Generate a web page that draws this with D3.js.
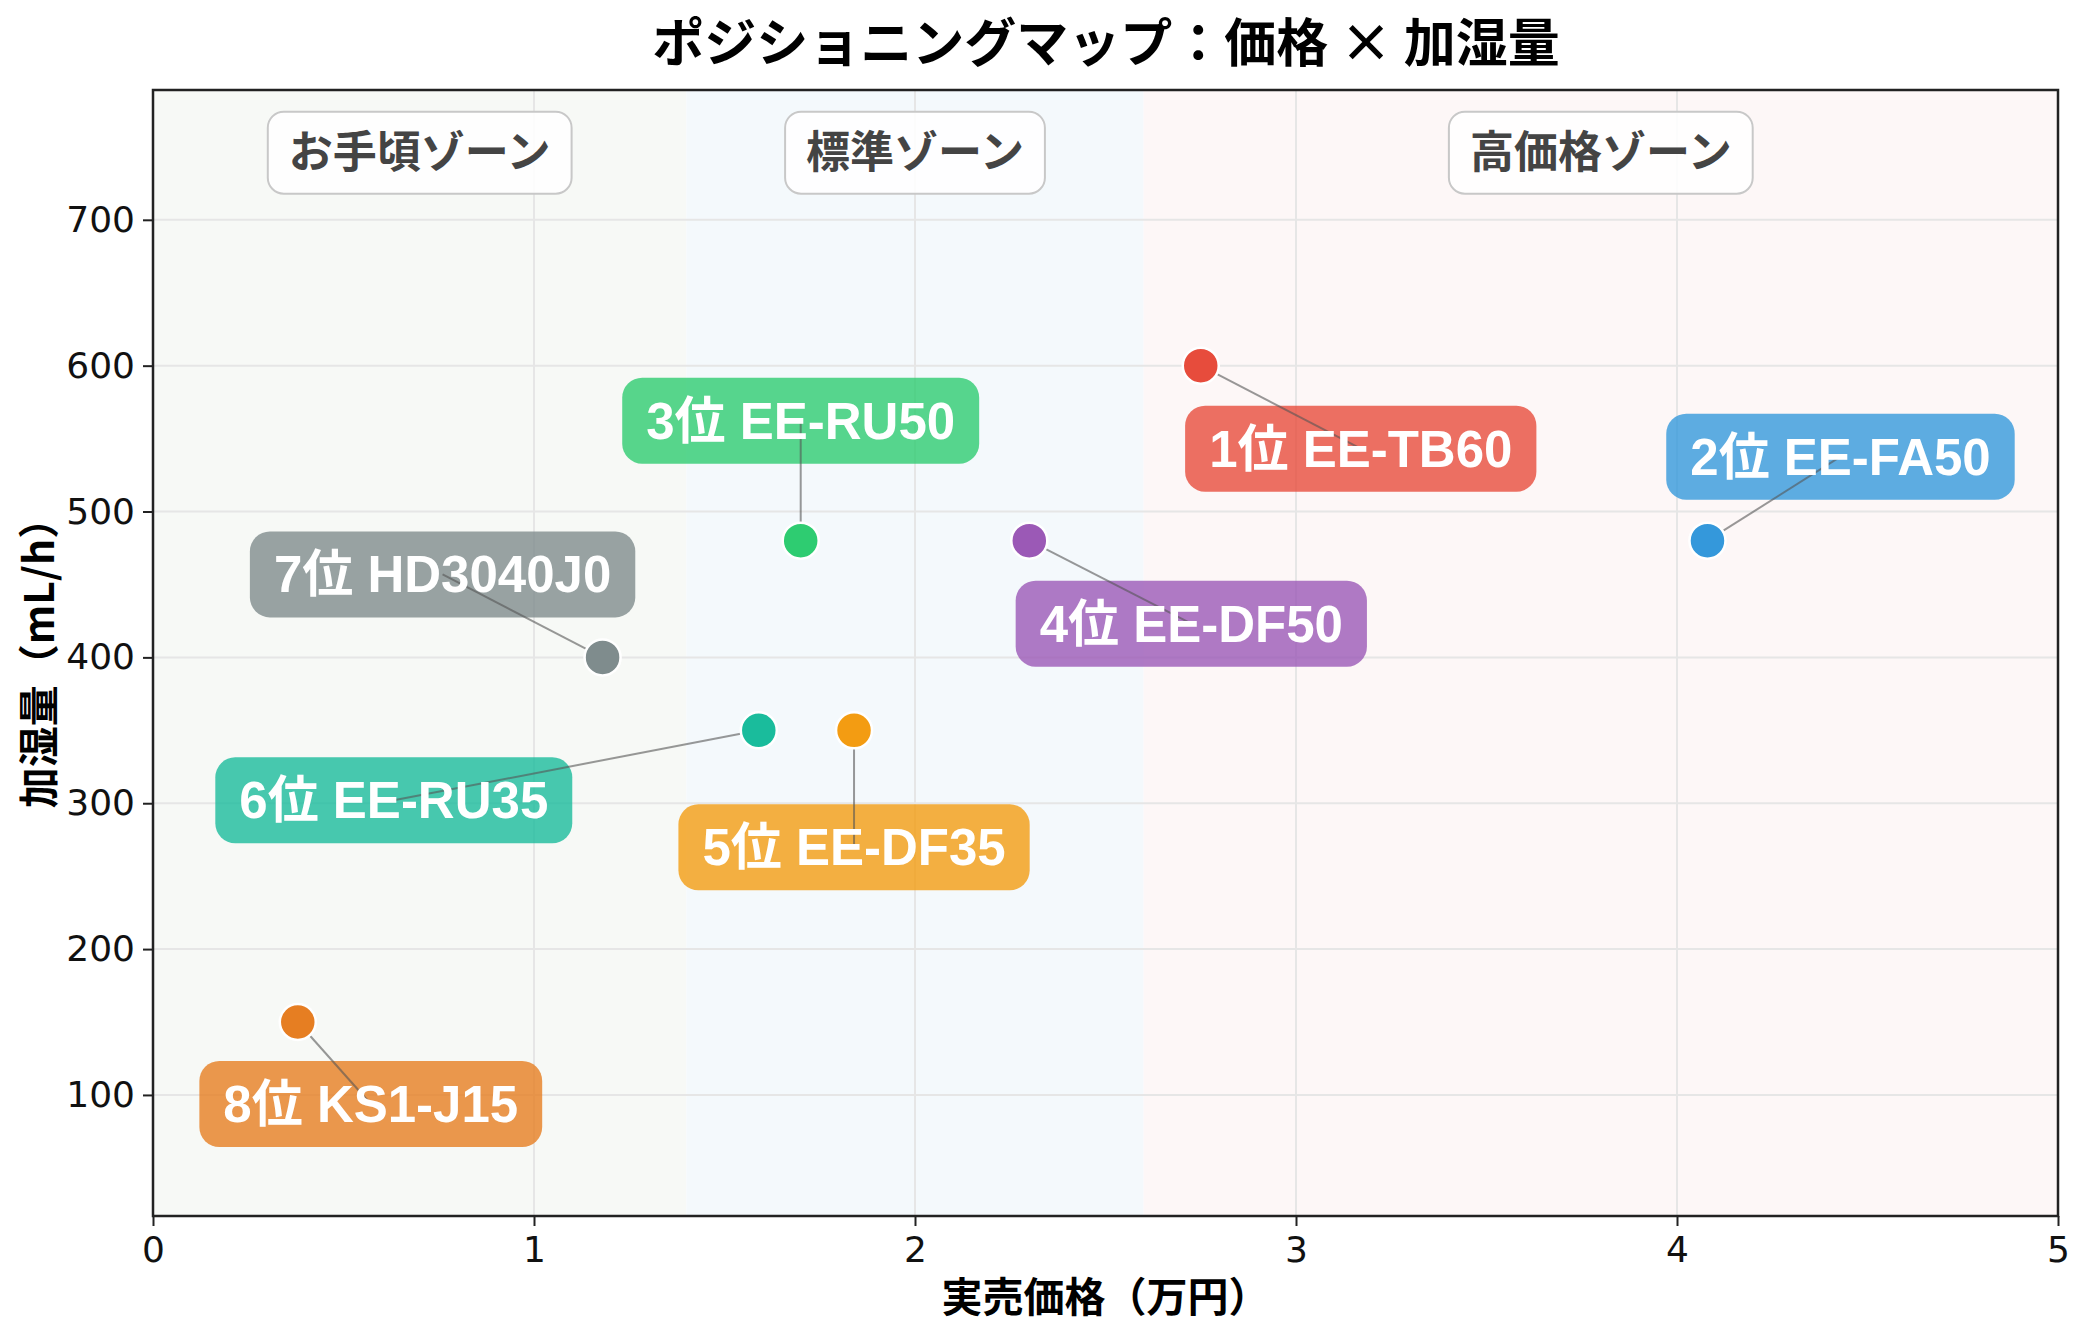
<!DOCTYPE html>
<html>
<head>
<meta charset="utf-8">
<script src="https://cdn.jsdelivr.net/npm/d3@7"></script>
<style>
  body { margin: 0; background: #fff; }
  svg { display: block; }
</style>
</head>
<body>
<div id="chart"><svg width="2084" height="1334"></svg></div>
<script>
// data
var ranks = ['1位', '2位', '3位', '4位', '5位', '6位', '7位', '8位'];
var models = ['EE-TB60', 'EE-FA50', 'EE-RU50', 'EE-DF50', 'EE-DF35', 'EE-RU35', 'HD3040J0', 'KS1-J15'];
var prices = [2.75, 4.08, 1.70, 2.30, 1.84, 1.59, 1.18, 0.38];   // 万円
var humidity = [600, 480, 480, 480, 350, 350, 400, 150];       // mL/h
var colors = ['#e74c3c', '#3498db', '#2ecc71', '#9b59b6', '#f39c12', '#1abc9c', '#7f8c8d', '#e67e22'];

var zoneNames = ['お手頃ゾーン', '標準ゾーン', '高価格ゾーン'];
var zoneEdges = [0, 1.4, 2.6, 5];
var zoneColors = ['#f7f9f6', '#f4f9fc', '#fdf7f7'];

var xTicks = [0, 1, 2, 3, 4, 5];
var yTicks = [100, 200, 300, 400, 500, 600, 700];

// label offsets from each point, in px (annotation layout)
var labelOffsets = [[160, 83], [133, -84], [0, -120], [162, 83], [0, 117], [-365, 70], [-160, -83], [73, 82]];

var margin = { top: 90, left: 153, bottom: 118, right: 26 };
var svg = d3.select('#chart > svg');
var width = 2084 - margin.left - margin.right;
var height = 1334 - margin.top - margin.bottom;

var xScale = d3.scaleLinear().domain([0, 5]).range([0, width]);
var yScale = d3.scaleLinear().domain([17, 789]).range([height, 0]);

var latin = "'DejaVu Sans', 'Noto Sans CJK JP', sans-serif";
var cjk = "'Noto Sans CJK JP', 'Noto Sans', sans-serif";
var labelFont = "'Liberation Sans', 'Noto Sans CJK JP', sans-serif";

var data = ranks.map(function(r, i) {
	return { rank: r, model: models[i], price: prices[i], humid: humidity[i], color: colors[i], off: labelOffsets[i] };
});

var group = svg.append('g')
	.attr('transform', 'translate(' + [margin.left, margin.top] + ')');

// zone backgrounds
var zones = zoneNames.map(function(n, i) { return { name: n, x0: zoneEdges[i], x1: zoneEdges[i + 1], color: zoneColors[i] }; });
group.append('g').selectAll('rect')
	.data(zones).enter()
	.append('rect')
	.attr('x', function(d) { return xScale(d.x0) })
	.attr('width', function(d) { return xScale(d.x1) - xScale(d.x0) })
	.attr('y', 0)
	.attr('height', height)
	.attr('fill', function(d) { return d.color });

// grids
group.append('g').selectAll('line')
	.data(yTicks).enter()
	.append('line')
	.attr('x1', 0).attr('x2', width)
	.attr('y1', function(d) { return yScale(d) })
	.attr('y2', function(d) { return yScale(d) })
	.attr('stroke', '#e6e6e6').attr('stroke-width', 2);
group.append('g').selectAll('line')
	.data(xTicks.slice(1, -1)).enter()
	.append('line')
	.attr('y1', 0).attr('y2', height)
	.attr('x1', function(d) { return xScale(d) })
	.attr('x2', function(d) { return xScale(d) })
	.attr('stroke', '#e6e6e6').attr('stroke-width', 2);

// zone labels
var zoneLabelY = 746;
var zl = group.append('g').selectAll('g')
	.data(zones).enter()
	.append('g')
	.attr('transform', function(d) { return 'translate(' + [xScale((d.x0 + d.x1) / 2), yScale(zoneLabelY)] + ')' });
zl.append('rect');
zl.append('text')
	.attr('text-anchor', 'middle')
	.attr('y', 15)
	.style('font-family', cjk)
	.style('font-weight', 700)
	.style('font-size', '44px')
	.attr('fill', '#444')
	.text(function(d) { return d.name });
zl.each(function() {
	var g = d3.select(this);
	var w = g.select('text').node().getComputedTextLength() + 42;
	g.select('rect')
		.attr('x', -w / 2).attr('y', -41)
		.attr('width', w).attr('height', 82)
		.attr('rx', 16)
		.attr('fill', '#fff').attr('fill-opacity', 0.85)
		.attr('stroke', '#c8c8c8').attr('stroke-width', 2);
});

// annotation boxes + leader lines
var ann = group.append('g').selectAll('g')
	.data(data).enter()
	.append('g')
	.attr('transform', function(d) { return 'translate(' + [xScale(d.price) + d.off[0], yScale(d.humid) + d.off[1]] + ')' });
ann.append('rect');
ann.append('line')
	.attr('x1', 0).attr('y1', 0)
	.attr('x2', function(d) { return -d.off[0] })
	.attr('y2', function(d) { return -d.off[1] })
	.attr('stroke', '#555').attr('stroke-opacity', 0.6).attr('stroke-width', 2);
ann.append('text')
	.attr('text-anchor', 'middle')
	.attr('y', 18)
	.style('font-family', labelFont)
	.style('font-weight', 700)
	.style('font-size', '51px')
	.attr('fill', '#fff')
	.text(function(d) { return d.rank + ' ' + d.model });
ann.each(function(d) {
	var g = d3.select(this);
	var w = g.select('text').node().getComputedTextLength() + 48;
	g.select('rect')
		.attr('x', -w / 2).attr('y', -43)
		.attr('width', w).attr('height', 86)
		.attr('rx', 20)
		.attr('fill', d.color).attr('fill-opacity', 0.8);
});

// dots
group.append('g').selectAll('circle')
	.data(data).enter()
	.append('circle')
	.attr('cx', function(d) { return xScale(d.price) })
	.attr('cy', function(d) { return yScale(d.humid) })
	.attr('r', 18)
	.attr('fill', function(d) { return d.color })
	.attr('stroke', '#fff').attr('stroke-width', 2.5);

// axes
var xAxis = group.append('g')
	.attr('transform', 'translate(0,' + height + ')')
	.call(d3.axisBottom(xScale).tickValues(xTicks).tickFormat(d3.format('d')).tickSize(10).tickPadding(10));
var yAxis = group.append('g')
	.call(d3.axisLeft(yScale).tickValues(yTicks).tickSize(10).tickPadding(8));
[xAxis, yAxis].forEach(function(ax) {
	ax.select('.domain').remove();
	ax.selectAll('.tick line').attr('stroke', '#222').attr('stroke-width', 2);
	ax.selectAll('.tick text')
		.style('font-family', latin)
		.style('font-size', '36px')
		.attr('fill', '#111');
});

// frame
group.append('rect')
	.attr('width', width).attr('height', height)
	.attr('fill', 'none')
	.attr('stroke', '#222').attr('stroke-width', 2.5);

// titles
svg.append('text')
	.attr('x', 1106).attr('y', 62)
	.attr('text-anchor', 'middle')
	.style('font-family', cjk).style('font-weight', 700).style('font-size', '52px')
	.text('ポジショニングマップ：価格 × 加湿量');
svg.append('text')
	.attr('x', margin.left + width / 2).attr('y', 1312)
	.attr('text-anchor', 'middle')
	.style('font-family', cjk).style('font-weight', 700).style('font-size', '41px')
	.text('実売価格（万円）');
svg.append('text')
	.attr('transform', 'translate(54,' + (margin.top + height / 2) + ') rotate(-90)')
	.attr('text-anchor', 'middle')
	.style('font-family', cjk).style('font-weight', 700).style('font-size', '41px')
	.text('加湿量（mL/h）');
</script>
</body>
</html>
